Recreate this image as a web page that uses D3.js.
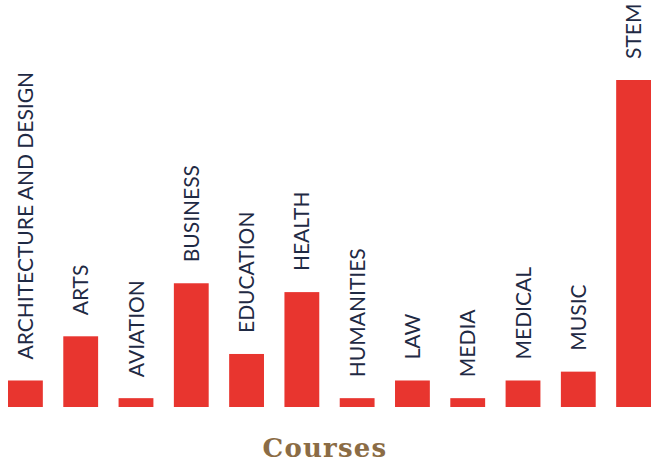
<!DOCTYPE html>
<html>
<head>
<meta charset="utf-8">
<script src="https://cdn.jsdelivr.net/npm/d3@7"></script>
<style>
  body { margin: 0; background: #fff; }
  .lbl { font-family: Lato, "Open Sans", sans-serif; font-size: 21px; fill: #1f2a44; }
  .title { font-family: "DejaVu Serif", serif; font-weight: bold; font-size: 26px; letter-spacing: 1.2px; fill: #8b6c45; }
</style>
</head>
<body>
<svg id="chart" width="651" height="468"></svg>
<script>
const courses = ["ARCHITECTURE AND DESIGN", "ARTS", "AVIATION", "BUSINESS", "EDUCATION", "HEALTH",
                 "HUMANITIES", "LAW", "MEDIA", "MEDICAL", "MUSIC", "STEM"];
const counts = [3, 8, 1, 14, 6, 13, 1, 3, 1, 3, 4, 37];
const axisTitle = "Courses";

const svg = d3.select("#chart");

const x = d3.scaleBand().domain(courses).range([8, 651]).paddingInner(0.37).paddingOuter(0);
const y = d3.scaleLinear().domain([0, 37]).range([407, 80]);

svg.append("g").selectAll("rect").data(courses).enter().append("rect")
  .attr("x", d => x(d))
  .attr("y", (d, i) => y(counts[i]))
  .attr("width", x.bandwidth())
  .attr("height", (d, i) => y(0) - y(counts[i]))
  .attr("fill", "#e8352f");

// labels sit above each bar, rotated
svg.append("g").selectAll("text").data(courses).enter().append("text")
  .attr("class", "lbl")
  .attr("transform", (d, i) => `translate(${x(d) + x.bandwidth()/2},${y(counts[i]) - 21}) rotate(-90)`)
  .attr("dy", "0.36em")
  .text(d => d);

svg.append("text").attr("class", "title")
  .attr("x", 325).attr("y", 457)
  .attr("text-anchor", "middle")
  .text(axisTitle);
</script>
</body>
</html>
